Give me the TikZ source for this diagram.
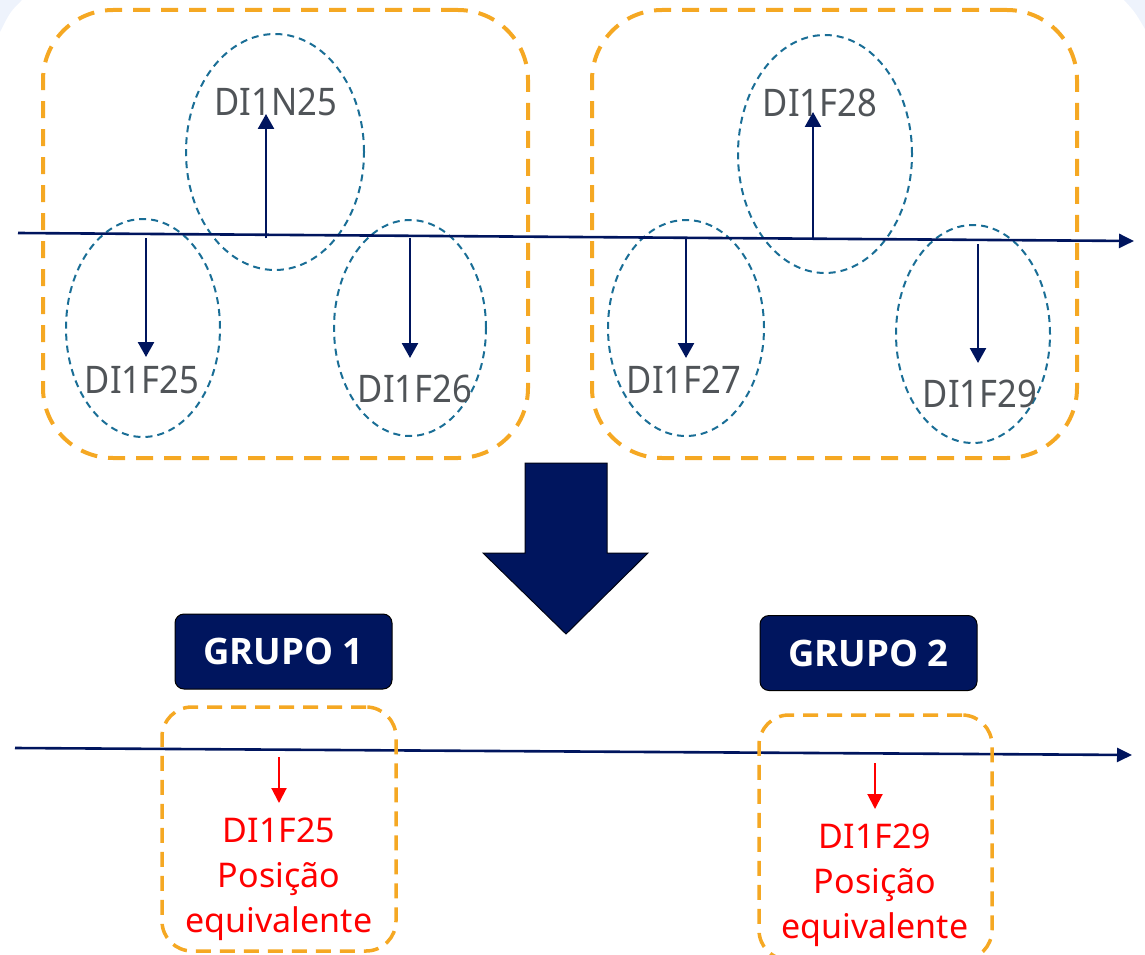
\documentclass[tikz,border=0pt]{standalone}
\usepackage{fontspec}
\setmainfont{Noto Sans}
\newfontfamily\lblfont[FakeStretch=0.91]{Noto Sans}
\newfontfamily\grpfont{Open Sans}
\usetikzlibrary{arrows.meta,shapes.geometric}
\definecolor{orng}{RGB}{245,168,35}
\definecolor{teal}{RGB}{26,110,150}
\definecolor{navy}{RGB}{0,21,94}
\definecolor{gtext}{RGB}{80,84,88}
\definecolor{lightbg}{RGB}{238,243,252}
\tikzset{
  obig/.style={draw=orng, line width=4pt, dash pattern=on 17pt off 11pt, rounded corners=70pt, rectangle, inner sep=0pt},
  osmall/.style={draw=orng, line width=3.5pt, dash pattern=on 15pt off 9pt, rounded corners=30pt, rectangle, inner sep=0pt},
  oval/.style={draw=teal, line width=2pt, dash pattern=on 7pt off 5pt, ellipse, inner sep=0pt},
  axis/.style={draw=navy, line width=2.6pt, -{Triangle[width=14pt,length=15pt]}},
  arr/.style={draw=navy, line width=2.5pt, -{Triangle[width=16pt,length=15pt]}},
  redarr/.style={draw=red, line width=2pt, -{Triangle[width=15pt,length=15pt]}},
  glabel/.style={text=gtext, font=\lblfont\fontsize{38}{44}\selectfont, inner sep=0pt, anchor=base},
  rlabel/.style={text=red, font=\fontsize{34}{45}\selectfont, align=center, inner sep=0pt, anchor=north},
  grp/.style={draw=black, line width=1pt, fill=navy, rounded corners=9pt, text=white, font=\grpfont\bfseries\fontsize{36.5}{40}\selectfont, minimum width=217pt, minimum height=75pt, inner sep=0pt}
}
\begin{document}
\begin{tikzpicture}[x=1pt,y=-1pt]
\useasboundingbox (0,0) rectangle (1145,955);
\clip (0,0) rectangle (1145,955);
% light background corners
\fill[lightbg] (0,0) -- (22,0) .. controls (10,12) .. (0,32) -- cycle;
\fill[lightbg] (1145,0) -- (1124,0) .. controls (1135,12) .. (1145,29) -- cycle;

% upper group boxes
\node[obig, minimum width=485pt, minimum height=448pt] (box1) at (285.5,234) {};
\node[obig, minimum width=485pt, minimum height=448pt] (box2) at (834.5,234) {};

% ellipses
\node[oval, minimum width=178pt, minimum height=236pt] (e1n25) at (275,152) {};
\node[oval, minimum width=154pt, minimum height=218pt] (e1f25) at (143,328) {};
\node[oval, minimum width=152pt, minimum height=216pt] (e1f26) at (410,328) {};
\node[oval, minimum width=174pt, minimum height=238pt] (e1f28) at (825,154) {};
\node[oval, minimum width=156pt, minimum height=216pt] (e1f27) at (686,328) {};
\node[oval, minimum width=154pt, minimum height=218pt] (e1f29) at (973,334) {};

% upper axis
\coordinate (ax0) at (18,233);
\coordinate (ax1) at (1134,241);
\draw[axis] (ax0) -- (ax1);

% arrows
\coordinate (s1) at (266,238); \coordinate (t1) at (266,114);
\coordinate (s2) at (146,238); \coordinate (t2) at (146,357);
\coordinate (s3) at (410,238); \coordinate (t3) at (410,358);
\coordinate (s4) at (813,240); \coordinate (t4) at (813,112);
\coordinate (s5) at (686,239); \coordinate (t5) at (686,358);
\coordinate (s6) at (978,244); \coordinate (t6) at (978,363);
\draw[arr] (s1) -- (t1);
\draw[arr] (s2) -- (t2);
\draw[arr] (s3) -- (t3);
\draw[arr] (s4) -- (t4);
\draw[arr] (s5) -- (t5);
\draw[arr] (s6) -- (t6);

% labels
\node[glabel] (l1n25) at (276,116) {DI1N25};
\node[glabel] (l1f25) at (142,393) {DI1F25};
\node[glabel] (l1f26) at (415,402) {DI1F26};
\node[glabel] (l1f28) at (820,117) {DI1F28};
\node[glabel] (l1f27) at (684,393) {DI1F27};
\node[glabel] (l1f29) at (980,407) {DI1F29};

% big down arrow
\filldraw[fill=navy, draw=black!80!navy, line width=1pt]
  (525,463) -- (607,463) -- (607,553) -- (648,553) -- (566,634) -- (483,553) -- (525,553) -- cycle;

% group labels
\node[grp] (grp1) at (283.5,651.5) {GRUPO 1};
\node[grp] (grp2) at (868.5,653) {GRUPO 2};

% lower axis
\coordinate (bx0) at (15,748);
\coordinate (bx1) at (1132,755);
\draw[axis] (bx0) -- (bx1);

% lower boxes
\node[osmall, minimum width=234pt, minimum height=244pt] (lb1) at (279,829) {};
\node[osmall, minimum width=233pt, minimum height=245pt] (lb2) at (875.5,837.5) {};

% red arrows
\coordinate (r1s) at (279,757); \coordinate (r1e) at (279,803);
\coordinate (r2s) at (875,763); \coordinate (r2e) at (875,809);
\draw[redarr] (r1s) -- (r1e);
\draw[redarr] (r2s) -- (r2e);

\node[rlabel] (rt1) at (279,818) {DI1F25\\Posição\\equivalente};
\node[rlabel] (rt2) at (875,824) {DI1F29\\Posição\\equivalente};
\end{tikzpicture}
\end{document}
